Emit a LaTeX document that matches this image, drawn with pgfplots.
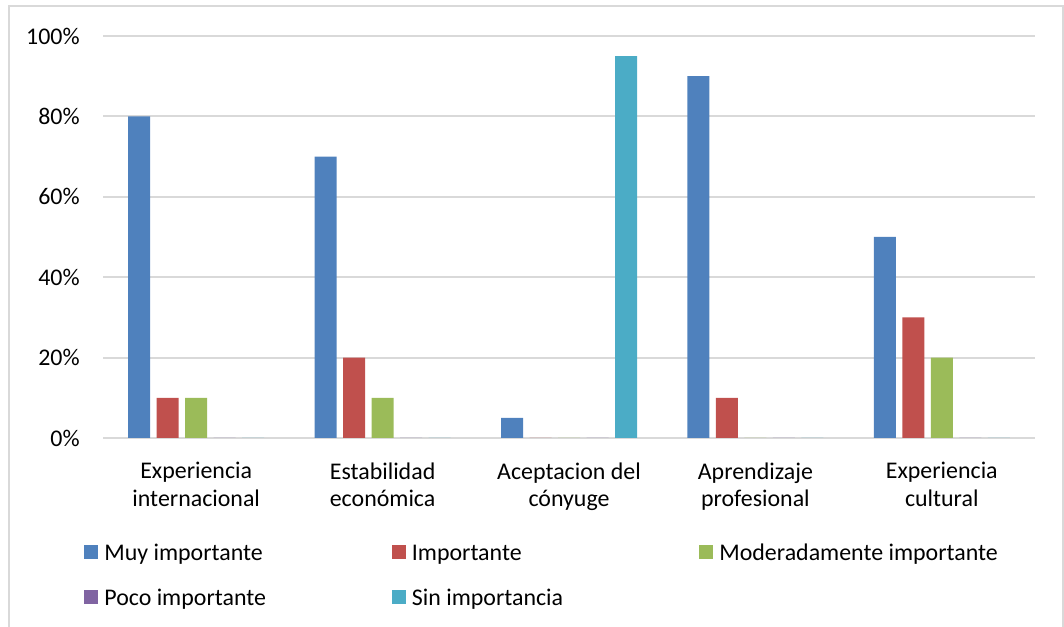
\documentclass[border=0pt]{standalone}
\usepackage{fontspec}
\setmainfont{Carlito}
\usepackage{pgfplots}
\pgfplotsset{compat=1.18}

\definecolor{cA}{HTML}{4F81BD}
\definecolor{cB}{HTML}{C0504D}
\definecolor{cC}{HTML}{9BBB59}
\definecolor{cD}{HTML}{8064A2}
\definecolor{cE}{HTML}{4BACC6}
\definecolor{grd}{HTML}{D9D9D9}

\begin{document}
\begin{tikzpicture}
\path[use as bounding box] (0,0) rectangle (532bp,313.5bp);
\draw[grd, line width=1bp] (4.5bp,-5bp) -- (4.5bp,310.5bp) -- (531.5bp,310.5bp) -- (531.5bp,-5bp);
\begin{axis}[
    at={(51.5bp,94.5bp)}, anchor=south west,
    scale only axis,
    width=466bp, height=201bp,
    ybar=3.25bp, bar width=11bp,
    xmin=-0.5, xmax=4.5,
    ymin=0, ymax=100,
    xtick={0,1,2,3,4},
    xticklabels={{Experiencia\\internacional},{Estabilidad\\económica},{Aceptacion del\\cónyuge},{Aprendizaje\\profesional},{Experiencia\\cultural}},
    ytick={0,20,40,60,80,100},
    yticklabels={0\%,20\%,40\%,60\%,80\%,100\%},
    major tick length=0pt,
    axis line style={draw=none},
    ymajorgrids, grid style={grd, line width=1bp},
    tick label style={font=\fontsize{12}{14}\selectfont, text=black},
    xticklabel style={align=center, inner sep=0pt, anchor=north, yshift=-12bp},
    yticklabel style={inner sep=0pt, anchor=east, xshift=-11.5bp},
    legend columns=3,
    legend image code/.code={\draw[#1, draw=none] (0bp,-3.5bp) rectangle (7bp,3.5bp);},
    legend style={
        at={(-0.0204,-0.258)}, anchor=north west,
        draw=none, inner sep=0pt, fill=none,
        row sep=12.2bp,
        font=\fontsize{12}{14}\selectfont,
        nodes={inner sep=0pt, text height=9bp, text depth=1.3bp},
        /tikz/every odd column/.append style={column sep=3bp},
        /tikz/every even column/.append style={column sep=0pt},
    },
    legend cell align=left,
]
\addplot[fill=cA, draw=none] coordinates {(0,80) (1,70) (2,5) (3,90) (4,50)};
\addplot[fill=cB, draw=none] coordinates {(0,10) (1,20) (2,0) (3,10) (4,30)};
\addplot[fill=cC, draw=none] coordinates {(0,10) (1,10) (2,0) (3,0) (4,20)};
\addplot[fill=cD, draw=none] coordinates {(0,0) (1,0) (2,0) (3,0) (4,0)};
\addplot[fill=cE, draw=none] coordinates {(0,0) (1,0) (2,95) (3,0) (4,0)};
\legend{\makebox[143.75bp][l]{Muy importante},\makebox[143.75bp][l]{Importante},Moderadamente importante,\makebox[143.75bp][l]{Poco importante},\makebox[143.75bp][l]{Sin importancia}}
\end{axis}
\end{tikzpicture}
\end{document}
